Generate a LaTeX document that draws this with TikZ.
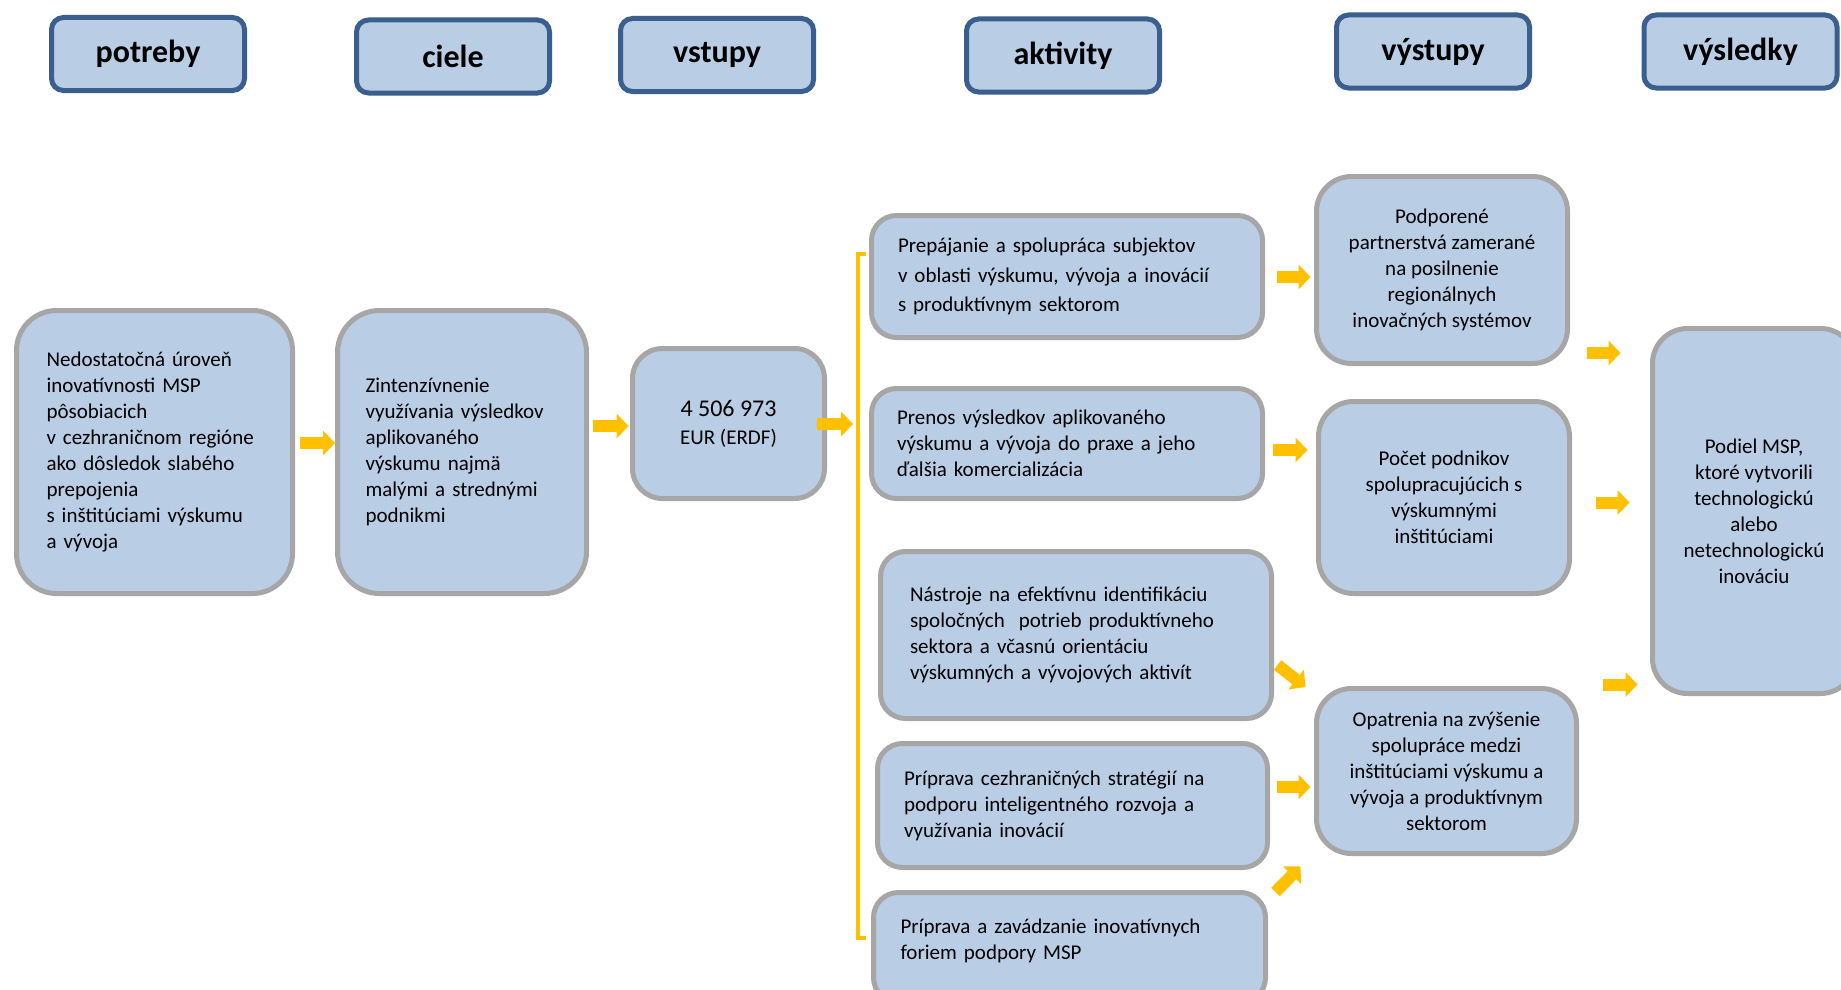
\documentclass[tikz,border=0pt]{standalone}
\usepackage{fontspec}
\setmainfont{Carlito}
\usetikzlibrary{arrows.meta,calc}
\definecolor{boxfill}{HTML}{B9CDE5}
\definecolor{boxgray}{HTML}{A6A6A6}
\definecolor{hdrblue}{HTML}{3A5F8F}
\definecolor{ayellow}{HTML}{FFC000}
\begin{document}
\begin{tikzpicture}[x=1pt,y=-1pt,
  hdr/.style={draw=hdrblue, fill=boxfill, line width=5pt, rounded corners=12pt,
    minimum width=193pt, minimum height=73pt, inner sep=0pt,
    font=\fontsize{32}{38}\selectfont\bfseries},
  bx/.style={draw=boxgray, fill=boxfill, line width=5pt, inner ysep=0pt,
    font=\fontsize{21}{26}\selectfont},
  lbx/.style={bx, align=left},
  cbx/.style={bx, align=center, inner xsep=0pt},
  arr/.style={draw=ayellow, line width=12pt,
    -{Triangle[length=12pt,width=25pt,line width=0pt]}},
  ybr/.style={draw=ayellow, line width=3.5pt}
]
\useasboundingbox (0,0) rectangle (1841,990);
\fill[white] (0,0) rectangle (1841,990);
\clip (0,0) rectangle (1841,990);

% headers
\node[hdr] (hpot) at (148,54) {potreby};
\node[hdr] (hcie) at (453,56.5) {ciele};
\node[hdr] (hvst) at (717,55) {vstupy};
\node[hdr] (hakt) at (1063,55.5) {aktivity};
\node[hdr] (hvys) at (1433,51.5) {výstupy};
\node[hdr] (hvsl) at (1740.5,51.5) {výsledky};

% needs, goals, inputs
\node[lbx, rounded corners=40pt, minimum width=276pt, minimum height=283pt,
  inner xsep=30pt, text width=216pt] (b1) at (154.5,452)
  {Nedostatočná úroveň\\inovatívnosti MSP\\pôsobiacich\\v cezhraničnom regióne\\ako dôsledok slabého\\prepojenia\\s inštitúciami výskumu\\a vývoja};
\node[lbx, rounded corners=42pt, minimum width=249pt, minimum height=283pt,
  inner xsep=28pt, text width=193pt] (b2) at (462,452)
  {Zintenzívnenie\\využívania výsledkov\\aplikovaného\\výskumu najmä\\malými a strednými\\podnikmi};
\node[cbx, rounded corners=30pt, minimum width=192pt, minimum height=150pt,
  font=\fontsize{21}{28}\selectfont] (b3) at (728.5,423.5)
  {{\fontsize{24}{28}\selectfont 4 506 973}\\EUR (ERDF)};

% activities
\node[lbx, rounded corners=25pt, minimum width=391pt, minimum height=122pt,
  inner xsep=26.5pt, text width=338pt, font=\fontsize{21}{29.5}\selectfont] (act1) at (1067,276.5)
  {Prepájanie a spolupráca subjektov\\v oblasti výskumu, vývoja a inovácií\\s produktívnym sektorom};
\node[lbx, rounded corners=25pt, minimum width=391pt, minimum height=110pt,
  inner xsep=25.5pt, text width=340pt] (act2) at (1067,443.5)
  {Prenos výsledkov aplikovaného\\výskumu a vývoja do praxe a jeho\\ďalšia komercializácia};
\node[lbx, rounded corners=25pt, minimum width=391pt, minimum height=167pt,
  inner xsep=29.5pt, text width=332pt] (act3) at (1076,635)
  {Nástroje na efektívnu identifikáciu\\spoločných~ potrieb produktívneho\\sektora a včasnú orientáciu\\výskumných a vývojových aktivít};
\node[lbx, rounded corners=25pt, minimum width=390pt, minimum height=124pt,
  inner xsep=26.5pt, text width=337pt] (act4) at (1072.5,805.5)
  {Príprava cezhraničných stratégií na\\podporu inteligentného rozvoja a\\využívania inovácií};
\node[lbx, rounded corners=25pt, minimum width=392pt, minimum height=110pt,
  inner xsep=27pt, text width=338pt, text depth=43pt] (act5) at (1069.5,947.5)
  {Príprava a zavádzanie inovatívnych\\foriem podpory MSP};

% outputs
\node[cbx, rounded corners=35pt, minimum width=251pt, minimum height=187pt] (out1) at (1442,270)
  {Podporené\\partnerstvá zamerané\\na posilnenie\\regionálnych\\inovačných systémov};
\node[cbx, rounded corners=35pt, minimum width=251pt, minimum height=192pt] (out2) at (1444,497.5)
  {Počet podnikov\\spolupracujúcich s\\výskumnými\\inštitúciami};
\node[cbx, rounded corners=35pt, minimum width=260pt, minimum height=165pt] (out3) at (1446.5,771)
  {Opatrenia na zvýšenie\\spolupráce medzi\\inštitúciami výskumu a\\vývoja a produktívnym\\sektorom};

% result
\node[cbx, rounded corners=35pt, minimum width=203pt, minimum height=365pt] (res) at (1754,511)
  {Podiel MSP,\\ktoré vytvorili\\technologickú\\alebo\\netechnologickú\\inováciu};

% connectors
\coordinate (brk) at (858,424);
\draw[arr] ($(b1.east)+(4.5,-9)$) -- ($(b2.west)+(0,-9)$);
\draw[arr] ($(b2.east)+(3.5,-26)$) -- ($(b3.west)+(-1.5,2.5)$);
\draw[arr] ($(b3.east)+(-10.5,0.5)$) -- ($(brk)+(-5,0)$);
\draw[ybr] ($(act1.west)+(-3.5,-22.5)$) -| (brk) |- ($(act5.west)+(-5.5,-9.5)$);

\draw[arr] ($(act1.east)+(11.5,0.5)$) -- ($(out1.west)+(-3.5,7)$);
\draw[arr] ($(act2.east)+(7.5,6.5)$) -- ($(out2.west)+(-8.5,-47.5)$);
\draw[arr] ($(act3.east)+(3.5,30)$) -- ($(out3.west)+(-8.5,-84)$);
\draw[arr] ($(act4.east)+(6.5,-18.5)$) -- ($(out3.west)+(-3.5,16)$);
\draw[arr] ($(act5.east)+(7.5,-55.5)$) -- ($(out3.south west)+(-13.5,10.5)$);

\draw[arr] ($(out1.east)+(16.5,83)$) -- ($(res.west)+(-29.5,-158)$);
\draw[arr] ($(out2.east)+(23.5,5)$) -- ($(res.west)+(-20.5,-8.5)$);
\draw[arr] ($(out3.east)+(23.5,-86.5)$) -- ($(res.west)+(-12.5,173.5)$);
\end{tikzpicture}
\end{document}
